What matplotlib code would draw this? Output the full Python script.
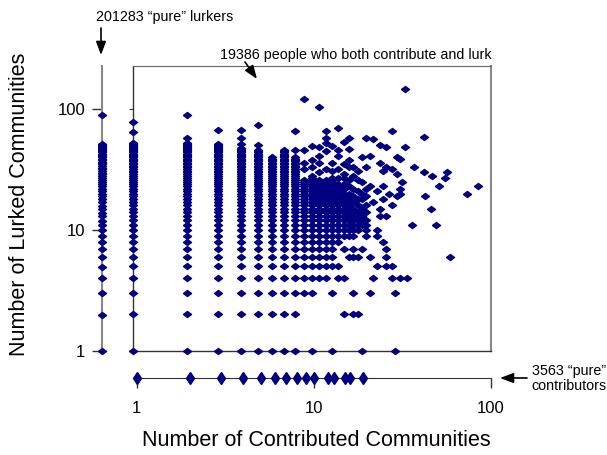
import matplotlib.pyplot as plt
from matplotlib.patches import FancyArrowPatch
from matplotlib.ticker import NullLocator, FixedLocator, FixedFormatter

plt.rcParams['font.family'] = ['Liberation Sans', 'DejaVu Sans']

NAVY = '#000080'
W, H = 607, 455

# "pure" lurkers (0 contributed communities): every lurked count up to the top, plus outliers
lurker_top = 52
lurker_extra = [90]

# "pure" contributors (0 lurked communities): contributed counts seen
contrib_only = [1, 2, 3, 4, 5, 6, 7, 8, 9, 10, 12, 13, 15, 16, 19]

# people who both contribute and lurk: solid column of lurked counts per contributed count
col_x = [1, 2, 3, 4, 5, 6, 7, 8, 9, 10, 11, 12, 13, 14, 15, 16, 17, 18, 19, 20]
col_bottom = [1, 1, 1, 1, 1, 1, 1, 1, 3, 3, 4, 4, 5, 8, 9, 9, 9, 10, 11, 11]
col_top = [53, 53, 52, 48, 46, 40, 46, 40, 26, 28, 26, 26, 27, 24, 20, 18, 15, 14, 13, 12]
col_extra = [[65, 78], [58, 90], [68], [52, 58, 68], [51, 74], [], [], [46, 66],
             [32, 36, 46, 123], [1, 33, 38, 50], [30, 36, 41, 49, 104],
             [32, 45, 53, 58, 66], [1, 3, 31, 36, 50], [4, 5, 27, 32, 41, 46, 70],
             [2, 4, 7, 22, 24, 27, 29, 35, 54], [6, 20, 23, 26, 33, 38, 47, 58],
             [2, 3, 6, 7, 17, 19, 22, 28, 33], [2, 6, 16, 18, 21, 26, 31],
             [1, 7, 15, 18, 20, 25, 40], [9, 10, 14, 16, 19, 22, 33, 58]]

# scattered points further out
sparse_x = [21, 29, 29, 22, 28, 31, 34, 23, 26, 28, 21, 26, 59, 26, 25, 23, 23, 36, 49,
            24, 26, 24, 46, 28, 22, 25, 30, 43, 27, 31, 73, 23, 31, 21, 25, 51, 85, 32,
            55, 47, 30, 42, 57, 25, 28, 26, 37, 24, 31, 30, 21, 26, 33, 24, 22, 42, 28, 33]
sparse_y = [3, 3, 1, 4, 4, 4, 4, 5, 5, 5, 6, 6, 6, 7, 8, 9, 10, 11, 11,
            13, 13, 15, 15, 16, 17, 18, 19, 19, 20, 20, 20, 21, 22, 23, 23, 23, 23, 25,
            27, 28, 29, 30, 30, 31, 32, 33, 33, 36, 39, 40, 41, 49, 49, 51, 57, 59, 66, 147]

diamond = [(-1, 0), (0, 0.75), (1, 0), (0, -0.75), (-1, 0)]


def box(l, t, r, b):
    return [l / W, 1 - b / H, (r - l) / W, (b - t) / H]


fig = plt.figure(figsize=(W / 100, H / 100), dpi=100)

# main log-log panel
ax = fig.add_axes(box(133, 65.5, 491, 350.7))
ax.set_xscale('log')
ax.set_yscale('log')
ax.set_xlim(1, 100)
ax.set_ylim(1, 231)

both_x, both_y = [], []
for x, lo, hi, extra in zip(col_x, col_bottom, col_top, col_extra):
    for y in list(range(lo, hi + 1)) + extra:
        both_x.append(x)
        both_y.append(y)
both_x += sparse_x
both_y += sparse_y
ax.plot(both_x, both_y, ls='none', marker=diamond, ms=5.8, color=NAVY,
        mec=NAVY, clip_on=False, zorder=3)

for s in ['left', 'bottom']:
    ax.spines[s].set_color('#333333')
    ax.spines[s].set_linewidth(1)
ax.spines['top'].set_color('#666666')
ax.spines['right'].set_color('#888888')
ax.spines['right'].set_linewidth(1.5)
ax.xaxis.set_major_locator(NullLocator())
ax.xaxis.set_minor_locator(NullLocator())
ax.yaxis.set_major_locator(FixedLocator([1, 10, 100]))
ax.yaxis.set_minor_locator(NullLocator())
ax.tick_params(axis='y', length=3, labelleft=False, color='#333333')

# left strip: pure lurkers
axl = fig.add_axes(box(92, 65.5, 112, 352.5))
axl.set_xlim(-1, 1)
axl.set_yscale('log')
axl.set_ylim(0.97, 231)
axl.patch.set_visible(False)
for s in ['top', 'right', 'bottom']:
    axl.spines[s].set_visible(False)
axl.spines['left'].set_position(('data', 0))
axl.spines['left'].set_color('#888888')
axl.spines['left'].set_linewidth(1.5)
axl.set_xticks([])
axl.yaxis.set_major_locator(FixedLocator([1, 10, 100]))
axl.yaxis.set_major_formatter(FixedFormatter(['1', '10', '100']))
axl.yaxis.set_minor_locator(NullLocator())
axl.tick_params(axis='y', length=7, width=1, color='#333333', pad=5, labelsize=12)
lurk_y = list(range(1, lurker_top + 1)) + lurker_extra
axl.plot([0] * len(lurk_y), lurk_y, ls='none', marker=diamond, ms=5.8,
         color=NAVY, mec=NAVY, clip_on=False, zorder=3)

# bottom strip: pure contributors
axb = fig.add_axes(box(136.7, 368, 491, 388.6))
axb.set_xscale('log')
axb.set_xlim(1, 100)
axb.set_ylim(-1, 1)
axb.patch.set_visible(False)
for s in ['top', 'right', 'left']:
    axb.spines[s].set_visible(False)
axb.spines['bottom'].set_position(('data', 0))
axb.spines['bottom'].set_color('#333333')
axb.set_yticks([])
axb.xaxis.set_major_locator(FixedLocator([1, 10, 100]))
axb.xaxis.set_major_formatter(FixedFormatter(['1', '10', '100']))
axb.xaxis.set_minor_locator(NullLocator())
axb.tick_params(axis='x', length=7, width=1, color='#333333', pad=9, labelsize=12)
axb.plot(contrib_only, [0] * len(contrib_only), ls='none', marker='d', ms=6,
         color=NAVY, mec=NAVY, clip_on=False, zorder=3)


def fx(x):
    return x / W


def fy(y):
    return 1 - y / H


fig.text(fx(316), fy(440), 'Number of Contributed Communities', ha='center',
         va='center', fontsize=15.5)
fig.text(fx(20), fy(204), 'Number of Lurked Communities', ha='center',
         va='center', rotation=90, fontsize=15.5)

fig.text(fx(164.5), fy(17), '201283 \u201cpure\u201d lurkers', ha='center',
         va='center', fontsize=10.3)
fig.text(fx(220), fy(55), '19386 people who both contribute and lurk',
         ha='left', va='center', fontsize=10.3)
fig.text(fx(531.5), fy(371.5), '3563 \u201cpure\u201d', ha='left', va='center',
         fontsize=10.3)
fig.text(fx(531.5), fy(386.5), 'contributors', ha='left', va='center',
         fontsize=10.3)

arrow = dict(arrowstyle='-|>,head_length=0.8,head_width=0.3', color='black',
             lw=1.2, mutation_scale=10, shrinkA=0, shrinkB=0)
for tail, head in [((101, 28), (101, 55)), ((245, 62), (257, 79)),
                   ((527, 378), (500, 378))]:
    fig.add_artist(FancyArrowPatch(
        (fx(tail[0]), fy(tail[1])), (fx(head[0]), fy(head[1])),
        transform=fig.transFigure, **arrow))

fig.savefig('out.png', dpi=100)
